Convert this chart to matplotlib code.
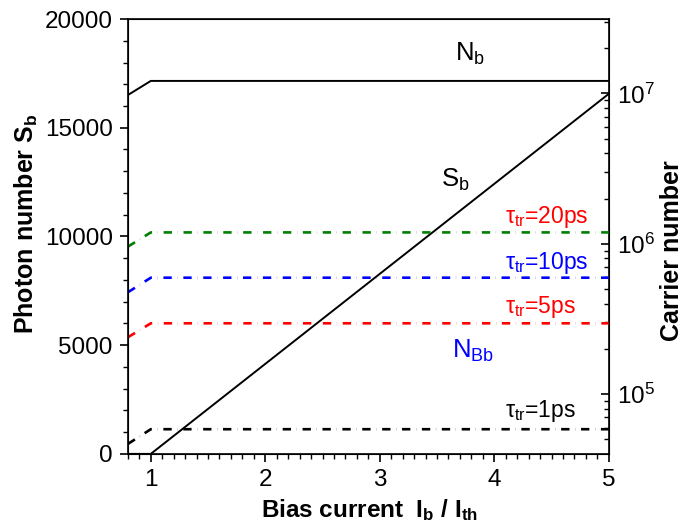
import matplotlib
matplotlib.use("Agg")
import matplotlib.pyplot as plt
import matplotlib.transforms as mtrans
from matplotlib.ticker import MultipleLocator, LogLocator, NullFormatter

plt.rcParams['font.family'] = ['Liberation Sans', 'DejaVu Sans']
plt.rcParams['mathtext.fontset'] = 'custom'
plt.rcParams['mathtext.rm'] = 'Liberation Sans'
plt.rcParams['mathtext.it'] = 'Liberation Sans'
plt.rcParams['mathtext.bf'] = 'Liberation Sans:bold'
plt.rcParams['lines.scale_dashes'] = False

# Data
x_sb = [0.8, 1.0, 5.0]
S_b = [0, 0, 16560]

x_n = [0.8, 1.0, 5.0]
N_b = [9.75e6, 1.21e7, 1.21e7]
N_Bb_20 = [9.57e5, 1.19e6, 1.19e6]
N_Bb_10 = [4.76e5, 5.95e5, 5.95e5]
N_Bb_5 = [2.39e5, 2.96e5, 2.96e5]
N_Bb_1 = [4.67e4, 5.85e4, 5.85e4]

W, H = 684, 529
fig = plt.figure(figsize=(6.84, 5.29), dpi=100)
ax = fig.add_axes([0.187, 0.142, 0.703, 0.822])
ax2 = ax.twinx()

ax.plot(x_sb, S_b, color='black', lw=1.4)
ax.set_xlim(0.8, 5)
ax.set_ylim(0, 20000)
ax.xaxis.set_major_locator(MultipleLocator(1))
ax.xaxis.set_minor_locator(MultipleLocator(0.1))
ax.yaxis.set_major_locator(MultipleLocator(5000))
ax.yaxis.set_minor_locator(MultipleLocator(1000))
ax.tick_params(axis='both', which='major', direction='out', length=6, width=1.2, labelsize=17.5, pad=5)
ax.tick_params(axis='both', which='minor', direction='out', length=3.5, width=1.0)
ax.tick_params(axis='x', top=False)
for s in ax.spines.values():
    s.set_linewidth(1.2)

dash = (0, (6.0, 4.1, 0.12, 4.1))
ax2.plot(x_n, N_b, color='black', lw=1.4)
ax2.plot(x_n, N_Bb_20, color='#008000', lw=1.9, linestyle=dash)
ax2.plot(x_n, N_Bb_10, color='#0000ff', lw=1.9, linestyle=dash)
ax2.plot(x_n, N_Bb_5, color='#ff0000', lw=1.9, linestyle=dash)
ax2.plot(x_n, N_Bb_1, color='black', lw=1.9, linestyle=dash)
ax2.set_yscale('log')
ax2.set_ylim(4.01e4, 3.12e7)
ax2.yaxis.set_major_locator(LogLocator(base=10, numticks=10))
ax2.yaxis.set_minor_locator(LogLocator(base=10, subs=range(2, 10), numticks=20))
ax2.yaxis.set_minor_formatter(NullFormatter())
ax2.tick_params(axis='y', which='major', direction='in', length=6, width=1.2, labelsize=17.5, pad=6)
ax2.tick_params(axis='y', which='minor', direction='in', length=3.5, width=1.0)

# axis labels placed at measured pixel positions
fig.text(369.5 / W, 1 - 517 / H, r'Bias current  I$_\mathbf{b}$ / I$_\mathbf{th}$',
         fontsize=17.5, fontweight='bold', ha='center', va='baseline')
fig.text(26 / W, 1 - 224 / H, r'Photon number S$_\mathbf{b}$', rotation=90,
         fontsize=18, fontweight='bold', ha='center', va='center')
fig.text(672 / W, 1 - 250.5 / H, 'Carrier number', rotation=90,
         fontsize=18, fontweight='bold', ha='center', va='center')

trans = mtrans.blended_transform_factory(ax.transData, fig.transFigure)

def tx(xd, ypx, s, color, size):
    ax.text(xd, 1 - ypx / H, s, color=color, fontsize=size, va='baseline', ha='left',
            transform=trans)

tx(3.656, 61, r'N$_\mathrm{b}$', 'black', 18.5)
tx(3.539, 186.5, r'S$_\mathrm{b}$', 'black', 18.5)
tx(4.09, 223.3, r'$\tau_\mathrm{tr}$=20ps', '#ff0000', 16.5)
tx(4.09, 269.3, r'$\tau_\mathrm{tr}$=10ps', '#0000ff', 16.5)
tx(4.09, 312.7, r'$\tau_\mathrm{tr}$=5ps', '#ff0000', 16.5)
tx(3.635, 358, r'N$_\mathrm{Bb}$', '#0000ff', 18.5)
tx(4.09, 416.7, r'$\tau_\mathrm{tr}$=1ps', 'black', 16.5)

fig.savefig('out.png', dpi=100)
